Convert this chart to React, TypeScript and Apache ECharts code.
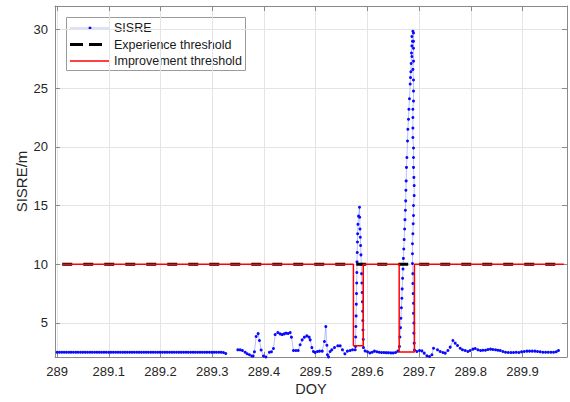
import React, { useEffect, useRef } from "react";
import * as echarts from "echarts";

// Axis ticks
const xTicks = [289, 289.1, 289.2, 289.3, 289.4, 289.5, 289.6, 289.7, 289.8, 289.9];
const yTicks = [5, 10, 15, 20, 25, 30];

// Regular-rate quiet period at the start of the day (sampling grid + read values)
const baseStart = 289.0;
const baseStep = 0.00453;
const baseValues = [
  2.5, 2.5, 2.5, 2.5, 2.5, 2.5, 2.5, 2.5, 2.5, 2.5,
  2.5, 2.5, 2.5, 2.5, 2.5, 2.5, 2.5, 2.5, 2.5, 2.5,
  2.5, 2.5, 2.5, 2.5, 2.5, 2.5, 2.5, 2.5, 2.5, 2.5,
  2.5, 2.5, 2.5, 2.5, 2.5, 2.5, 2.5, 2.5, 2.5, 2.5,
  2.5, 2.5, 2.5, 2.5, 2.5, 2.5, 2.5, 2.5, 2.5, 2.5,
  2.5, 2.5, 2.5, 2.5, 2.5, 2.5, 2.5, 2.5, 2.5, 2.5,
  2.5, 2.5, 2.5, 2.5, 2.5, 2.5, 2.5, 2.5, 2.5, 2.5,
  2.5, 2.48, 2.4,
];

// [DOY, SISRE]
const segB = [
  [289.3495, 2.71], [289.354, 2.71], [289.3584, 2.65], [289.3636, 2.5], [289.3675, 2.38],
  [289.372, 2.29], [289.3766, 2.18], [289.3791, 2.18], [289.3816, 2.54], [289.3849, 3.84],
  [289.3888, 4.09], [289.3913, 3.5], [289.3946, 2.7], [289.399, 2.18], [289.4037, 2.1],
  [289.4106, 2.5], [289.4145, 2.54], [289.4184, 2.82], [289.4217, 4.01], [289.4269, 4.18],
  [289.4313, 4.07], [289.4352, 4.01], [289.4391, 4.07], [289.4429, 4.13], [289.4468, 4.1],
  [289.4507, 4.18], [289.4532, 3.79], [289.4571, 2.65], [289.4617, 2.65], [289.4662, 2.65],
  [289.47, 3.14], [289.4739, 3.56], [289.4783, 3.79], [289.483, 3.9], [289.4874, 3.79],
  [289.4894, 3.56], [289.4927, 2.9], [289.4957, 2.57], [289.499, 2.49], [289.5035, 2.57],
  [289.5074, 2.6], [289.5126, 2.6], [289.517, 3.42], [289.5197, 4.69], [289.5217, 3.1],
  [289.5228, 2.29], [289.5248, 2.1], [289.528, 2.57], [289.5313, 2.71], [289.5364, 2.9],
  [289.5429, 3.05], [289.5474, 3.05], [289.5518, 2.71], [289.5565, 2.37], [289.5615, 2.6],
  [289.5667, 2.65], [289.5712, 2.71], [289.5764, 2.71],
];

const spike1 = [
  [289.577, 3.0], [289.5774, 3.8], [289.5778, 4.7], [289.5782, 5.6], [289.5786, 6.6],
  [289.579, 7.5], [289.5794, 8.4], [289.5797, 9.3], [289.58, 10.2], [289.5804, 11.0],
  [289.5808, 11.9], [289.5812, 12.6], [289.5818, 13.4], [289.583, 14.1], [289.5848, 14.86],
  [289.5852, 14.0], [289.5858, 13.0], [289.5864, 12.3], [289.587, 11.6], [289.5876, 10.8],
  [289.5882, 10.0], [289.5888, 9.2], [289.5894, 8.4], [289.5899, 7.6], [289.5904, 6.8],
  [289.5908, 6.0], [289.5912, 5.2], [289.5916, 4.4], [289.592, 3.6], [289.5924, 2.9],
];

const between = [
  [289.5957, 2.62], [289.6002, 2.55], [289.6048, 2.45], [289.6093, 2.5], [289.6137, 2.6],
  [289.6184, 2.55], [289.6228, 2.5], [289.6273, 2.48], [289.6319, 2.48], [289.6364, 2.47],
  [289.6408, 2.47], [289.6455, 2.45], [289.6499, 2.45], [289.6544, 2.48], [289.659, 2.6],
];

const spike2 = [
  [289.6621, 3.0], [289.6629, 3.8], [289.664, 4.6], [289.6648, 5.4], [289.6658, 6.3],
  [289.6667, 7.1], [289.6673, 7.9], [289.6681, 8.8], [289.6689, 9.6], [289.6696, 10.5],
  [289.6704, 11.3], [289.6712, 12.1], [289.672, 13.0], [289.6727, 13.8], [289.6735, 14.6],
  [289.6741, 15.4], [289.6745, 16.3], [289.675, 17.1], [289.6756, 18.25], [289.6764, 19.1],
  [289.6776, 20.5], [289.6783, 21.5], [289.6795, 22.35], [289.6803, 23.2], [289.6814, 24.1],
  [289.6828, 25.35], [289.6834, 25.9], [289.6841, 26.4], [289.6847, 27.1], [289.6861, 27.7],
  [289.6853, 28.0], [289.6861, 28.6], [289.6872, 29.0], [289.6861, 29.4], [289.688, 29.85],
  [289.6892, 29.7], [289.6892, 29.0], [289.6892, 28.4], [289.6892, 27.3], [289.688, 26.6],
  [289.6892, 25.7], [289.6892, 24.75], [289.6892, 23.9], [289.688, 23.2], [289.688, 22.5],
  [289.688, 21.6], [289.688, 20.8], [289.6892, 19.9], [289.6892, 19.1], [289.6892, 18.25],
  [289.6899, 17.4], [289.6905, 16.7], [289.6905, 15.85], [289.6892, 15.0], [289.6892, 14.15],
  [289.6886, 13.45], [289.688, 12.6], [289.6872, 11.75], [289.6872, 10.9], [289.6872, 10.06],
  [289.688, 9.2], [289.688, 8.36], [289.6886, 7.5], [289.6892, 6.67], [289.6892, 5.82],
  [289.6899, 5.0], [289.6899, 4.13], [289.6905, 3.28], [289.6911, 2.7],
];

const tail = [
  [289.6957, 2.57], [289.7008, 2.65], [289.7054, 2.62], [289.7099, 2.43], [289.7151, 2.2],
  [289.7201, 2.14], [289.7248, 2.29], [289.7279, 2.85], [289.7356, 2.71], [289.7408, 2.57],
  [289.746, 2.48], [289.7505, 2.43], [289.7557, 2.65], [289.7602, 2.94], [289.7654, 3.5],
  [289.7698, 3.28], [289.7743, 3.08], [289.7795, 2.85], [289.7839, 2.71], [289.7892, 2.65],
  [289.7944, 2.57], [289.7988, 2.65], [289.8041, 2.77], [289.8085, 2.82], [289.8137, 2.71],
  [289.8188, 2.65], [289.8234, 2.68], [289.8284, 2.68], [289.8331, 2.74], [289.8381, 2.77],
  [289.8427, 2.74], [289.8478, 2.71], [289.8524, 2.68], [289.8569, 2.65], [289.8621, 2.57],
  [289.8671, 2.51], [289.8723, 2.48], [289.8776, 2.48], [289.8826, 2.48], [289.8878, 2.51],
  [289.893, 2.48], [289.8981, 2.54], [289.9033, 2.57], [289.9085, 2.6], [289.9135, 2.6],
  [289.9188, 2.6], [289.924, 2.6], [289.929, 2.57], [289.9342, 2.54], [289.9395, 2.51],
  [289.9445, 2.51], [289.9497, 2.51], [289.9549, 2.51], [289.96, 2.51], [289.9652, 2.54],
  [289.9696, 2.65],
];

const experienceThreshold = [[289.01, 10], [289.98, 10]];
const improvementThreshold = [
  [289.01, 10], [289.573, 10], [289.573, 3.05], [289.592, 3.05], [289.592, 10],
  [289.6615, 10], [289.6615, 2.52], [289.691, 2.52], [289.691, 10], [289.98, 10],
];

const FONT = "'Liberation Sans', Arial, Helvetica, sans-serif";
const AXIS_COLOR = "#8a8a8a";
const GRID_COLOR = "#e4e4e4";
const LABEL_COLOR = "#262626";
const SISRE_LINE = "rgba(70,90,255,0.38)";
const SISRE_DOT = "#0a0aff";

export default function App() {
  const ref = useRef<HTMLDivElement>(null);
  useEffect(() => {
    if (!ref.current) return;
    const chart = echarts.init(ref.current, null, { renderer: "svg" });
    const sisre: any[] = [
      ...baseValues.map((v, i) => [baseStart + i * baseStep, v]),
      [289.338, "-"],
      ...segB,
      ...spike1,
      ...between,
      ...spike2,
      ...tail,
    ];
    const axisLine = { show: true, lineStyle: { color: AXIS_COLOR, width: 1 } };
    const xMin = 288.996;
    const xMax = 289.986;
    const yMin = 2.1;
    const yMax = 32;
    chart.setOption({
      animation: false,
      backgroundColor: "#ffffff",
      grid: { left: 55, right: 3, top: 6, bottom: 45, containLabel: false },
      xAxis: [
        {
          type: "value",
          position: "bottom",
          min: xMin,
          max: xMax,
          axisLine,
          name: "DOY",
          nameLocation: "middle",
          nameGap: 24,
          nameMoveOverlap: false,
          nameTextStyle: { fontFamily: FONT, fontSize: 14.5, color: LABEL_COLOR },
          axisTick: { show: true, inside: true, length: 5, customValues: xTicks, lineStyle: { color: AXIS_COLOR } },
          axisLabel: { customValues: xTicks, fontFamily: FONT, fontSize: 13, color: LABEL_COLOR, margin: 8 },
          splitLine: { show: true, lineStyle: { color: GRID_COLOR, width: 1 } },
        },
        {
          type: "value",
          position: "top",
          min: xMin,
          max: xMax,
          axisLine,
          axisTick: { show: true, inside: true, length: 5, customValues: xTicks, lineStyle: { color: AXIS_COLOR } },
          axisLabel: { show: false },
          splitLine: { show: false },
        },
      ],
      yAxis: [
        {
          type: "value",
          position: "left",
          min: yMin,
          max: yMax,
          axisLine,
          name: "SISRE/m",
          nameLocation: "middle",
          nameGap: 26,
          nameMoveOverlap: false,
          nameTextStyle: { fontFamily: FONT, fontSize: 15, color: LABEL_COLOR },
          axisTick: { show: true, inside: true, length: 5, customValues: yTicks, lineStyle: { color: AXIS_COLOR } },
          axisLabel: { customValues: yTicks, fontFamily: FONT, fontSize: 13, color: LABEL_COLOR, margin: 7 },
          splitLine: { show: true, lineStyle: { color: GRID_COLOR, width: 1 } },
        },
        {
          type: "value",
          position: "right",
          min: yMin,
          max: yMax,
          axisLine,
          axisTick: { show: true, inside: true, length: 5, customValues: yTicks, lineStyle: { color: AXIS_COLOR } },
          axisLabel: { show: false },
          splitLine: { show: false },
        },
      ],
      series: [
        {
          type: "line",
          name: "SISRE",
          data: sisre,
          xAxisIndex: 0,
          yAxisIndex: 0,
          symbol: "circle",
          symbolSize: 3,
          showSymbol: true,
          connectNulls: false,
          lineStyle: { color: SISRE_LINE, width: 1 },
          itemStyle: { color: SISRE_DOT },
          z: 2,
          silent: true,
        },
        {
          type: "line",
          name: "Experience threshold",
          data: experienceThreshold,
          symbol: "none",
          lineStyle: { color: "#000000", width: 3, type: [10, 11] },
          z: 3,
          silent: true,
        },
        {
          type: "line",
          name: "Improvement threshold",
          data: improvementThreshold,
          symbol: "none",
          lineStyle: { color: "#ff0000", width: 1.5 },
          z: 4,
          silent: true,
        },
      ],
      graphic: [
        {
          type: "group",
          z: 100,
          children: [
            {
              type: "rect",
              shape: { x: 66.5, y: 17.5, width: 179, height: 53 },
              style: { fill: "#ffffff", stroke: "#9a9a9a", lineWidth: 1 },
            },
            {
              type: "line",
              shape: { x1: 70, y1: 28, x2: 110, y2: 28 },
              style: { stroke: SISRE_LINE, lineWidth: 1 },
            },
            {
              type: "circle",
              shape: { cx: 90, cy: 28, r: 1.5 },
              style: { fill: SISRE_DOT },
            },
            {
              type: "text",
              x: 114,
              y: 28,
              style: { text: "SISRE", fontFamily: FONT, fontSize: 12.5, fill: "#1a1a1a", verticalAlign: "middle" },
            },
            {
              type: "line",
              shape: { x1: 70, y1: 44.5, x2: 102, y2: 44.5 },
              style: { stroke: "#000000", lineWidth: 3, lineDash: [13, 6] },
            },
            {
              type: "text",
              x: 114,
              y: 44.5,
              style: { text: "Experience threshold", fontFamily: FONT, fontSize: 12.5, fill: "#1a1a1a", verticalAlign: "middle" },
            },
            {
              type: "line",
              shape: { x1: 70, y1: 61, x2: 110, y2: 61 },
              style: { stroke: "#ff0000", lineWidth: 1.5 },
            },
            {
              type: "text",
              x: 114,
              y: 61,
              style: { text: "Improvement threshold", fontFamily: FONT, fontSize: 12.5, fill: "#1a1a1a", verticalAlign: "middle" },
            },
          ],
        },
      ],
    });
    return () => chart.dispose();
  }, []);
  return (
    <div
      ref={ref}
      style={{ position: "fixed", left: 0, top: 0, width: 570, height: 402, background: "#fff" }}
    />
  );
}
